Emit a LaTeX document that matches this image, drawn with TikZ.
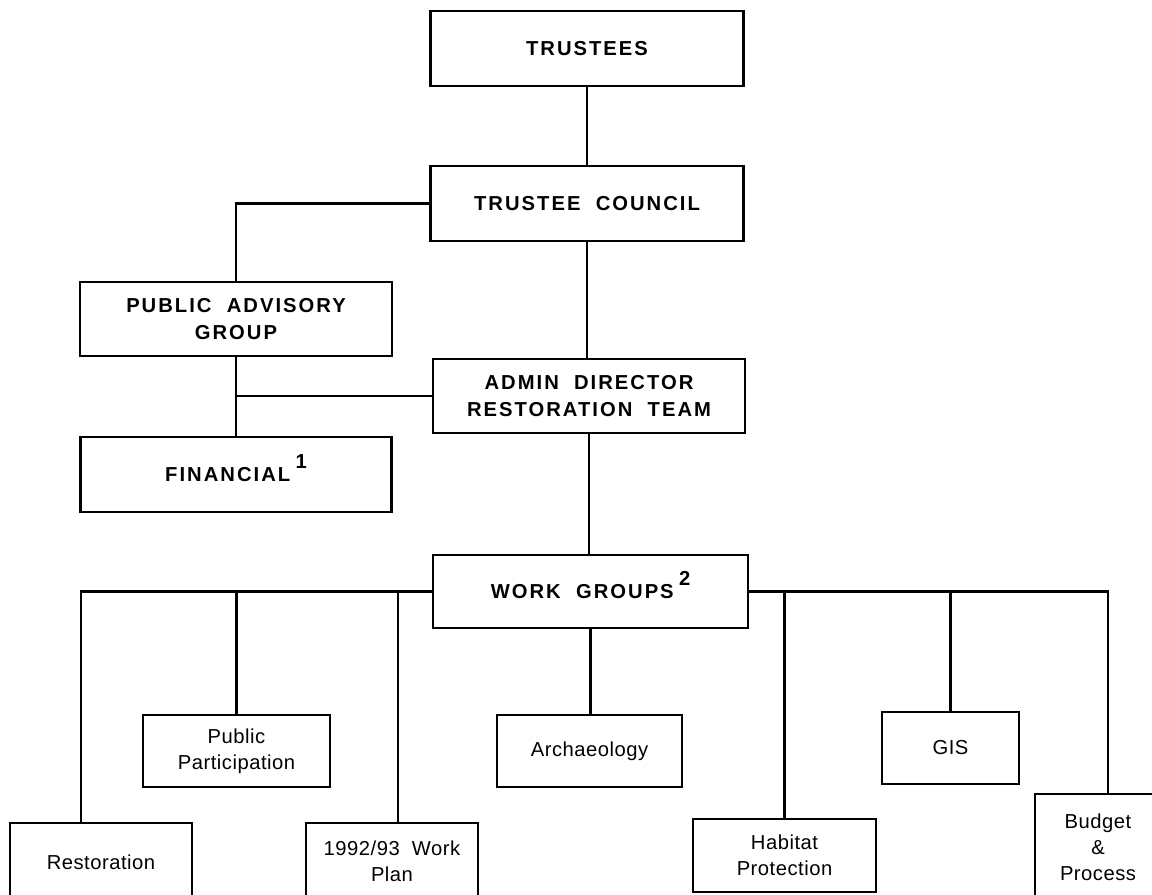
\documentclass[tikz,border=0pt]{standalone}
\usepackage{fontspec}
\setmainfont{Liberation Sans}
\newfontfamily\capsfont[LetterSpace=10]{Liberation Sans}
\newfontfamily\lowfont[LetterSpace=2.5]{Liberation Sans}
\begin{document}
\begin{tikzpicture}[x=0.02cm,y=-0.02cm,line width=1.3pt,
  every node/.style={draw,rectangle,inner sep=1pt,align=center},
  upper/.style={font=\capsfont\bfseries\fontsize{11.5}{15.3}\selectfont,minimum width=6.26cm,minimum height=1.5cm},
  lower/.style={font=\lowfont\fontsize{11.5}{14.8}\selectfont,minimum height=1.44cm}]
\useasboundingbox (0,0) rectangle (1152,894);
\node[upper] (tr) at (587,48.5) {TRUSTEES};
\node[upper] (tc) at (587,203.5) {TRUSTEE\ \ COUNCIL};
\node[upper,minimum width=6.24cm,minimum height=1.48cm] (pa) at (236,319) {PUBLIC\ \ ADVISORY\\GROUP};
\node[upper,minimum width=6.24cm,minimum height=1.48cm] (ad) at (589,396) {ADMIN\ \ DIRECTOR\\RESTORATION\ \ TEAM};
\node[upper,minimum width=6.22cm] (fi) at (236,474.5) {FINANCIAL\hspace{3pt}\raisebox{0.65em}[0pt][0pt]{1}};
\node[upper,minimum width=6.3cm,minimum height=1.46cm] (wg) at (590.5,591.5) {WORK\ \ GROUPS\hspace{3pt}\raisebox{0.65em}[0pt][0pt]{2}};
\node[lower,minimum width=3.64cm,minimum height=1.56cm] (r1) at (101,862) {Restoration};
\node[lower,minimum width=3.74cm] (r2) at (236.5,751) {Public\\Participation};
\node[lower,minimum width=3.44cm,minimum height=1.54cm] (r3) at (392,861.5) {1992/93\ \ Work\\Plan};
\node[lower,minimum width=3.7cm] (r4) at (589.5,751) {Archaeology};
\node[lower,minimum width=3.66cm,minimum height=1.46cm] (r5) at (784.5,855.5) {Habitat\\Protection};
\node[lower,minimum width=2.74cm] (r6) at (950.5,748) {GIS};
\node[lower,minimum width=2.52cm,minimum height=2.12cm] (r7) at (1098,847) {Budget\\\&\\Process};
\coordinate (d1) at ([xshift=-0.4cm]r1.north);
\coordinate (d3) at ([xshift=0.12cm]r3.north);
\coordinate (d7) at ([xshift=0.2cm]r7.north);
\draw (tr) -- (tc);
\draw (tc.west) -| (pa.north);
\draw (tc.south) -- (tc.south |- ad.north);
\draw (pa) -- (fi);
\draw (ad.west) -- (ad.west -| pa.south);
\draw (ad.south) -- (ad.south |- wg.north);
\draw (wg.west) -| (d1);
\draw (wg.east) -| (d7);
\draw (wg.west -| r2.north) -- (r2.north);
\draw (wg.west -| d3) -- (d3);
\draw (wg.south) -- (wg.south |- r4.north);
\draw (wg.east -| r5.north) -- (r5.north);
\draw (wg.east -| r6.north) -- (r6.north);
\end{tikzpicture}
\end{document}
